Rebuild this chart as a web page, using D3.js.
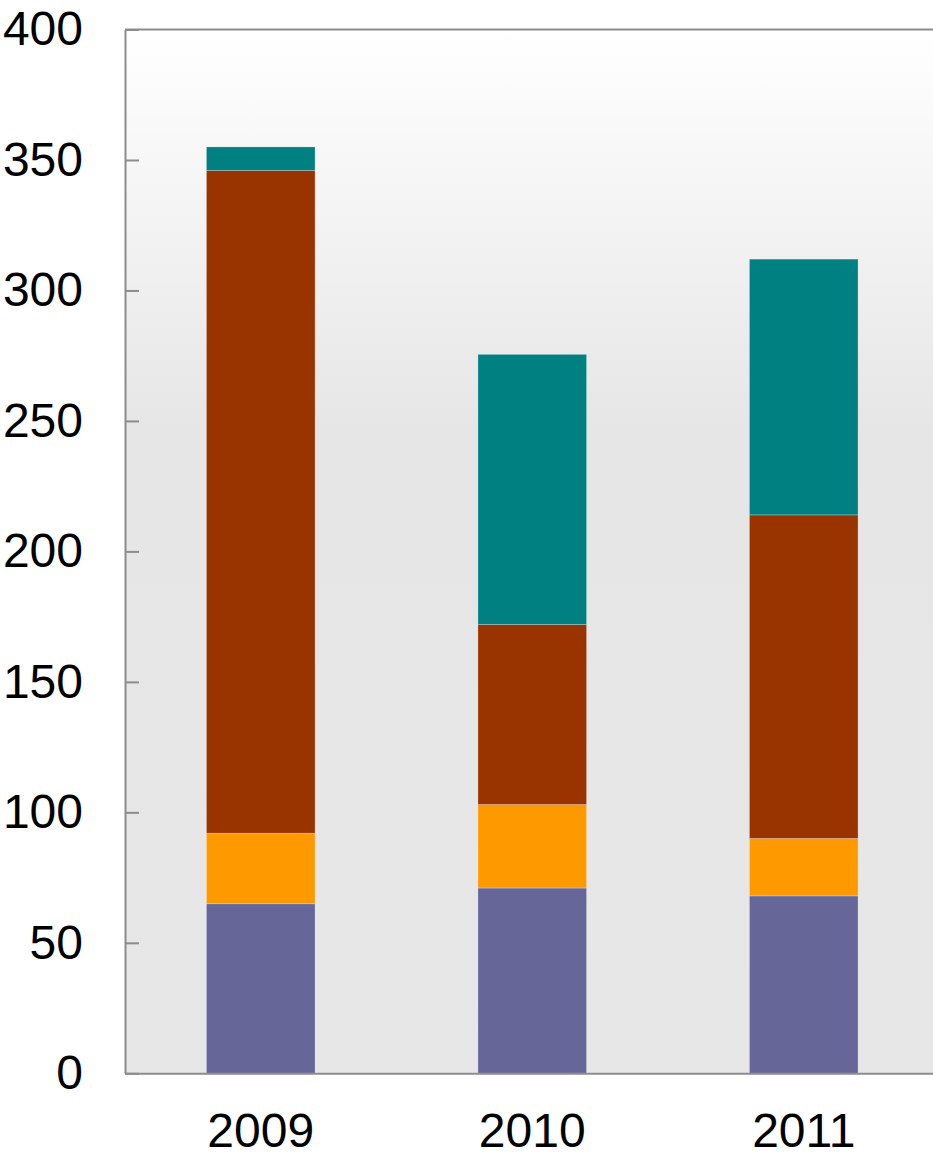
<!DOCTYPE html>
<html><head><meta charset="utf-8">
<script src="https://cdn.jsdelivr.net/npm/d3@7"></script>
<style>html,body{margin:0;padding:0;background:#fff;overflow:hidden}</style>
</head><body>
<svg id="c" width="933" height="1154"></svg>
<script>
const categories = ["2009", "2010", "2011"];
const seriesNames = ["s1", "s2", "s3", "s4"];
const s1 = [65, 71, 68];
const s2 = [27, 32, 22];
const s3 = [254, 69, 124];
const s4 = [9, 103.5, 98];
const colors = ["#666699", "#ff9900", "#993300", "#008080"];
const yTicks = [0, 50, 100, 150, 200, 250, 300, 350, 400];

const rows = categories.map((c, i) => ({cat: c, s1: s1[i], s2: s2[i], s3: s3[i], s4: s4[i]}));
const stacked = d3.stack().keys(seriesNames)(rows);

const svg = d3.select("#c");
const pL = 125, pR = 939.5, pT = 29.5, pB = 1073.3;
const x = d3.scaleBand().domain(categories).range([pL, pR]).paddingInner(0.6).paddingOuter(0.3);
const y = d3.scaleLinear().domain([0, 400]).range([pB, pT]);

const defs = svg.append("defs");
const g = defs.append("linearGradient").attr("id", "bg").attr("x1", 0).attr("y1", 0).attr("x2", 0).attr("y2", 1);
g.append("stop").attr("offset", "0%").attr("stop-color", "#ffffff");
g.append("stop").attr("offset", "38%").attr("stop-color", "#e6e6e6");
g.append("stop").attr("offset", "100%").attr("stop-color", "#e7e7e7");

svg.append("rect").attr("x", pL).attr("y", pT).attr("width", pR - pL).attr("height", pB - pT).attr("fill", "url(#bg)");

svg.append("g").selectAll("g").data(stacked).join("g")
  .attr("fill", (d, i) => colors[i])
  .selectAll("rect").data(d => d).join("rect")
  .attr("x", d => x(d.data.cat))
  .attr("width", x.bandwidth())
  .attr("y", d => y(d[1]))
  .attr("height", d => y(d[0]) - y(d[1]))
  .attr("stroke", "rgba(255,255,255,0.25)")
  .attr("stroke-width", 1);

// y axis (ticks inside)
const yAxis = svg.append("g").attr("transform", `translate(${pL},0)`)
  .call(d3.axisLeft(y).tickValues(yTicks).tickSize(-14).tickSizeOuter(0).tickPadding(42));
yAxis.select(".domain").attr("stroke", "#8c8c8c").attr("stroke-width", 2);
yAxis.selectAll(".tick line").attr("stroke", "#8c8c8c").attr("stroke-width", 2);
yAxis.selectAll(".tick text").attr("font-family", "Liberation Sans, Arial, sans-serif").attr("font-size", 48).attr("fill", "#000");

// x axis
const xAxis = svg.append("g").attr("transform", `translate(0,${pB})`)
  .call(d3.axisBottom(x).tickSize(0).tickSizeOuter(0).tickPadding(40));
xAxis.select(".domain").attr("stroke", "#8c8c8c").attr("stroke-width", 2);
xAxis.selectAll(".tick text").attr("font-family", "Liberation Sans, Arial, sans-serif").attr("font-size", 48).attr("fill", "#000");

// top border
svg.append("line").attr("x1", pL).attr("x2", pR).attr("y1", pT).attr("y2", pT).attr("stroke", "#8c8c8c").attr("stroke-width", 2);
</script>
</body></html>
